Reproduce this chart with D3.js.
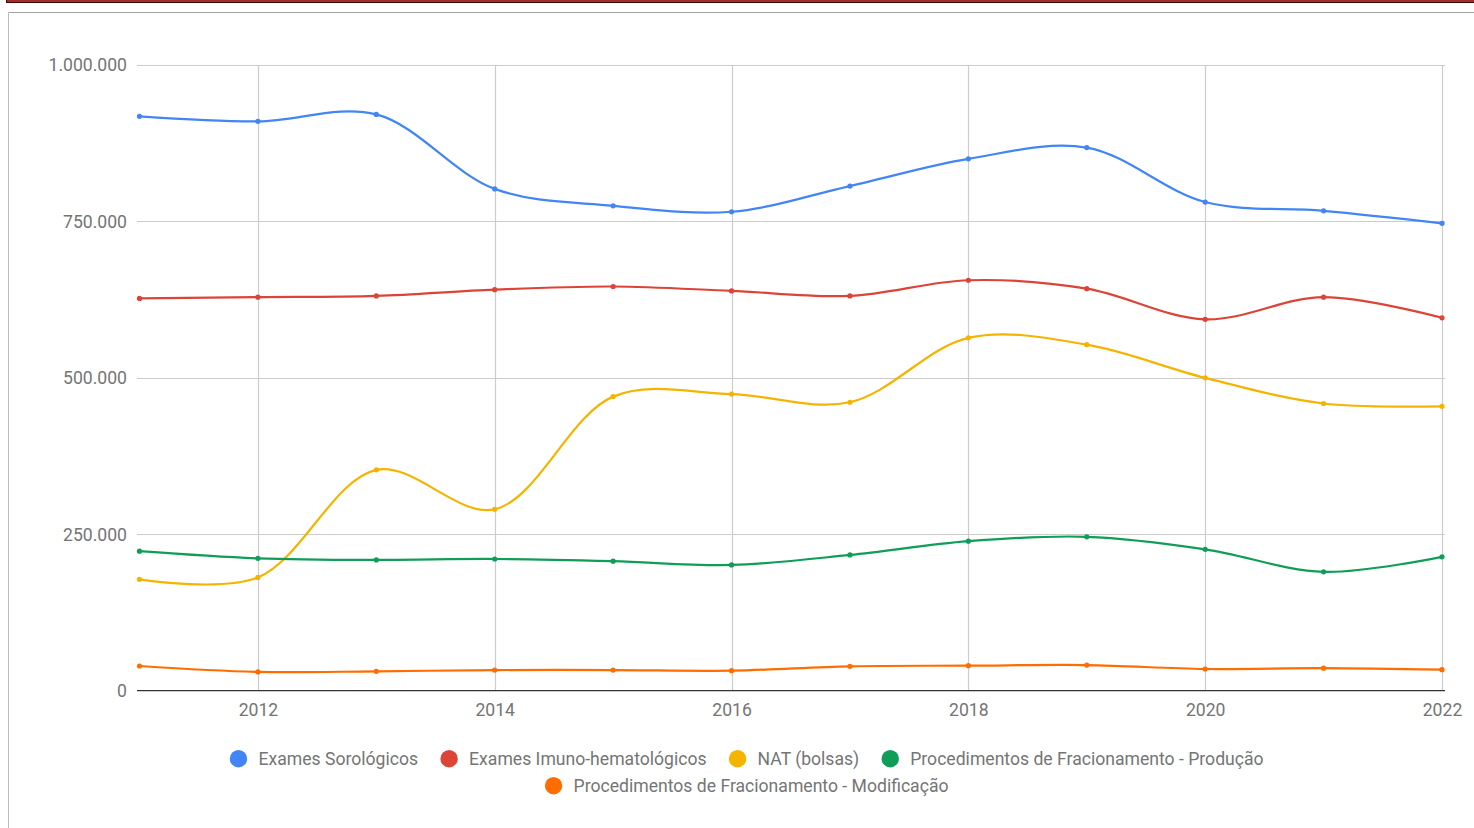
<!DOCTYPE html>
<html><head><meta charset="utf-8">
<script src="https://cdn.jsdelivr.net/npm/d3@7"></script>
<style>html,body{margin:0;padding:0;background:#fff;overflow:hidden}svg{display:block}</style>
</head><body>
<svg id="c" width="1474" height="828"></svg>
<script>
const years = [2011,2012,2013,2014,2015,2016,2017,2018,2019,2020,2021,2022];
const seriesNames = ["Exames Sorológicos","Exames Imuno-hematológicos","NAT (bolsas)","Procedimentos de Fracionamento - Produção","Procedimentos de Fracionamento - Modificação"];
const sorologicos = [918000,910000,921000,802000,775000,765500,806500,850000,868000,781000,767000,747000];
const imunoHemato = [627000,629000,631000,641000,646000,639000,631000,656000,642500,593500,629000,596000];
const natBolsas   = [178000,181000,353000,290000,470000,474000,461000,564000,553000,500000,459000,454500];
const fracProducao = [223000,211500,209000,210500,207000,201000,217000,239000,246000,226000,190000,214000];
const fracModificacao = [39500,30000,31000,33000,33000,32000,39000,40000,41000,34700,36000,33600];
const yTicks = [0,250000,500000,750000,1000000];
const xTicks = [2012,2014,2016,2018,2020,2022];
const colors = ["#4285f4","#db4437","#f4b400","#0f9d58","#ff6d01"];

const allSeries = [sorologicos, imunoHemato, natBolsas, fracProducao, fracModificacao];
const svg = d3.select("#c");
const fmt = v => d3.format(",")(v).replace(/,/g,".");
const FS = 17.6;

// page decoration
svg.append("rect").attr("x",6.5).attr("y",-1).attr("width",1470).attr("height",3.5)
  .attr("fill","#a8292b").attr("stroke","#3b0a0a").attr("stroke-width",1);
svg.append("line").attr("x1",8.5).attr("x2",1474).attr("y1",12.5).attr("y2",12.5).attr("stroke","#a0a0a0");
svg.append("line").attr("x1",8.5).attr("x2",8.5).attr("y1",12.5).attr("y2",828).attr("stroke","#bdbdbd");

const L=137, R=1445, T=65, B=690.7;
const x = d3.scaleLinear().domain([2011,2022]).range([139.5,1442]);
const y = d3.scaleLinear().domain([0,1000000]).range([B,T]);
const font = "Roboto, 'Noto Sans', sans-serif";

const g = svg.append("g");
g.selectAll(".hg").data(yTicks.filter(d=>d>0)).join("line")
  .attr("x1",L).attr("x2",R).attr("y1",d=>Math.round(y(d))+0.5).attr("y2",d=>Math.round(y(d))+0.5)
  .attr("stroke","#cccccc").attr("stroke-width",1.2);
g.selectAll(".vg").data(xTicks).join("line")
  .attr("x1",d=>Math.round(x(d))+0.5).attr("x2",d=>Math.round(x(d))+0.5).attr("y1",T).attr("y2",B)
  .attr("stroke","#cccccc").attr("stroke-width",1.2);

const yAxis = d3.axisLeft(y).tickValues(yTicks).tickFormat(fmt).tickSize(0).tickPadding(10);
const ya = svg.append("g").attr("transform",`translate(${L},0)`).call(yAxis);
ya.select(".domain").remove();
ya.selectAll("text").attr("font-family",font).attr("font-size",FS).attr("fill","#757575").attr("dy","0.34em");

const xAxis = d3.axisBottom(x).tickValues(xTicks).tickFormat(d3.format("d")).tickSize(0).tickPadding(13);
const xa = svg.append("g").attr("transform",`translate(0,${B})`).call(xAxis);
xa.select(".domain").remove();
xa.selectAll("text").attr("font-family",font).attr("font-size",FS).attr("fill","#757575");

svg.append("line").attr("x1",L).attr("x2",R).attr("y1",B).attr("y2",B).attr("stroke","#333").attr("stroke-width",1.3);

const line = d3.line().x((d,i)=>x(years[i])).y(d=>y(d)).curve(d3.curveCatmullRom.alpha(0.5));
allSeries.forEach((s,k)=>{
  svg.append("path").datum(s).attr("d",line).attr("fill","none").attr("stroke",colors[k]).attr("stroke-width",2.2);
  svg.append("g").selectAll("circle").data(s).join("circle")
    .attr("cx",(d,i)=>x(years[i])).attr("cy",d=>y(d)).attr("r",2.6).attr("fill",colors[k]);
});

const rows = [[0,1,2,3],[4]];
const rowY = [765,792];
const cx0 = 746.7;
rows.forEach((row,ri)=>{
  const lg = svg.append("g");
  let xpos = 0;
  row.forEach((k,j)=>{
    const it = lg.append("g").attr("transform",`translate(${xpos},0)`);
    it.append("circle").attr("cx",8.7).attr("cy",rowY[ri]-6.3).attr("r",8.7).attr("fill",colors[k]);
    const t = it.append("text").attr("x",28.7).attr("y",rowY[ri]).text(seriesNames[k])
      .attr("font-family",font).attr("font-size",FS).attr("fill","#757575");
    const w = t.node().getComputedTextLength();
    xpos += 28.7 + w + 22.3;
  });
  const total = xpos - 22.3;
  lg.attr("transform",`translate(${cx0 - total/2},0)`);
});
</script>
</body></html>
